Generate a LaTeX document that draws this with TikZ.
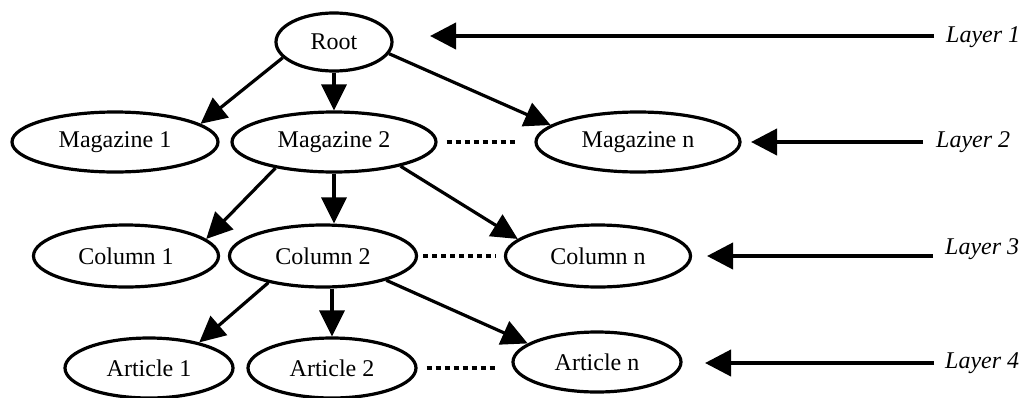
\documentclass[tikz,border=0pt]{standalone}
\usepackage{fontspec}
\setmainfont{Liberation Serif}
\usetikzlibrary{arrows.meta,shapes.geometric,calc}

\tikzset{
  level/.style={ellipse, draw, line width=3.2pt, inner sep=0pt,
    minimum height=60pt, font=\fontsize{24}{28}\selectfont},
  edge/.style={line width=3.2pt, -{Triangle[length=26pt,width=25pt]}},
  layerarrow/.style={line width=4pt, -{Triangle[length=26pt,width=26pt]}},
  more/.style={line width=4pt, dash pattern=on 5pt off 4pt},
  layertext/.style={anchor=west, inner sep=0pt, font=\fontsize{24}{28}\selectfont\itshape},
}

\begin{document}
\begin{tikzpicture}[x=1pt, y=-1pt]
  \useasboundingbox (0,0) rectangle (1021,397);

  % tree nodes
  \node[level, minimum width=116pt, minimum height=58pt] (root) at (334,42) {Root};

  \node[level, minimum width=206pt] (mag1) at (115,142) {Magazine 1};
  \node[level, minimum width=204pt] (mag2) at (334,142) {Magazine 2};
  \node[level, minimum width=204pt] (magn) at (638,142) {Magazine n};

  \node[level, minimum width=185pt, minimum height=62pt] (col1) at (126,256) {Column 1};
  \node[level, minimum width=187pt, minimum height=62pt] (col2) at (323,256) {Column 2};
  \node[level, minimum width=185pt, minimum height=62pt] (coln) at (598,256) {Column n};

  \node[level, minimum width=168pt] (art1) at (149,368) {Article 1};
  \node[level, minimum width=168pt] (art2) at (332,368) {Article 2};
  \node[level, minimum width=168pt] (artn) at (597,362) {Article n};

  % parent-child connectors
  \draw[edge] (root.197) -- (mag1.12);
  \draw[edge] (root.south) -- (mag2.north);
  \draw[edge] (root.348) -- (magn.169);

  \draw[edge] (mag2.204) -- (col1.12);
  \draw[edge] (mag2.south) -- (mag2.south |- col2.north);
  \draw[edge] (mag2.340) -- (coln.168);

  \draw[edge] (col2.206) -- (art1.27);
  \draw[edge] (col2.south -| art2.north) -- (art2.north);
  \draw[edge] (col2.339) -- (artn.165);

  % elided siblings
  \draw[more, shorten <=9pt, shorten >=18pt] (mag2.east) -- (magn.west);
  \draw[more, shorten <=5pt, shorten >=8pt] (col2.east) -- (coln.west);
  \draw[more, shorten <=9pt, shorten >=14pt] (art2.east) -- (art2.east -| artn.west);

  % layer markers
  \coordinate (tip1) at (430,36);
  \coordinate (tail1) at (934,36);
  \node[layertext] (lay1) at (946,37) {Layer 1};
  \draw[layerarrow] (tail1) -- (tip1);

  \coordinate (tip2) at (751,142);
  \coordinate (tail2) at (923,142);
  \node[layertext] (lay2) at (936,142) {Layer 2};
  \draw[layerarrow] (tail2) -- (tip2);

  \coordinate (tip3) at (707,256);
  \coordinate (tail3) at (933,256);
  \node[layertext] (lay3) at (945,249) {Layer 3};
  \draw[layerarrow] (tail3) -- (tip3);

  \coordinate (tip4) at (705,363);
  \coordinate (tail4) at (934,363);
  \node[layertext] (lay4) at (945,363) {Layer 4};
  \draw[layerarrow] (tail4) -- (tip4);
\end{tikzpicture}
\end{document}
